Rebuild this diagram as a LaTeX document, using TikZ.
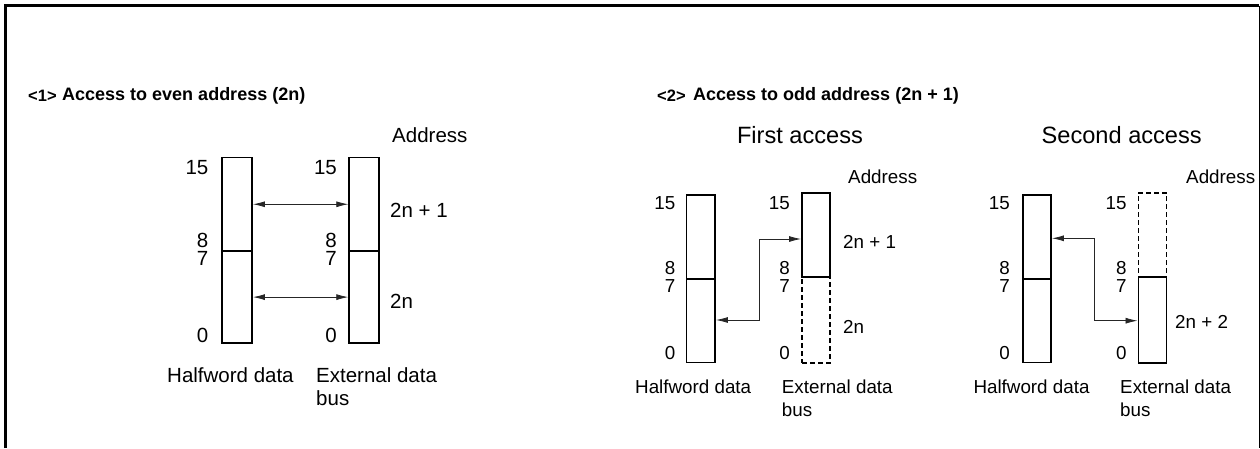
\documentclass[tikz,border=0pt]{standalone}
\usepackage{fontspec}
\setmainfont{Liberation Sans}
\usetikzlibrary{arrows.meta,calc}
\tikzset{
  half/.style={draw, line width=1.9pt, inner sep=0pt},
  dhalf/.style={draw, line width=1.9pt, inner sep=0pt, dash pattern=on 5pt off 3pt},
  arr/.style={line width=0.8pt, draw=black!85, {Latex[length=12pt,width=6pt]}-{Latex[length=12pt,width=6pt]}},
  ttl/.style={font=\fontsize{18}{21}\selectfont\bfseries, inner sep=0pt, anchor=west},
  num/.style={font=\fontsize{16.5}{20}\selectfont\bfseries, inner sep=0pt, anchor=west},
  sub/.style={font=\fontsize{23.6}{27}\selectfont, inner sep=0pt},
  la/.style={font=\fontsize{20.5}{23}\selectfont, inner sep=0pt},
  lb/.style={font=\fontsize{18.8}{22}\selectfont, inner sep=0pt},
  frame/.style={line width=2.5pt}
}
\begin{document}
\begin{tikzpicture}[x=1pt,y=-1pt]
\useasboundingbox (0,0) rectangle (1260,448);
% frame
\draw[frame] (5.3,448) -- (5.3,5.7) -- (1259.2,5.7);
\draw[line width=1.3pt] (1259.2,5.7) -- (1259.2,448);

% titles
\node[num] (t1a) at (28,96) {<1>};
\node[ttl] (t1b) at (62,96) {Access to even address (2n)};
\node[num] (t2a) at (657,96) {<2>};
\node[ttl] (t2b) at (693,96) {Access to odd address (2n + 1)};

% ---------- section 1 ----------
\node[half, minimum width=30pt, minimum height=93.5pt] (L1u) at (237,204.25) {};
\node[half, minimum width=30pt, minimum height=92pt] (L1l) at (237,297.1) {};
\node[half, minimum width=30pt, minimum height=93.5pt] (R1u) at (364.25,204.25) {};
\node[half, minimum width=30pt, minimum height=92pt] (R1l) at (364.25,297.1) {};
\draw[arr] (L1u.east) -- (R1u.west);
\draw[arr] (L1l.east) -- (R1l.west);

\node[la, anchor=east] (n1a) at (208.5,168) {15};
\node[la, anchor=east] (n1b) at (208.5,240) {8};
\node[la, anchor=east] (n1c) at (208.5,258.5) {7};
\node[la, anchor=east] (n1d) at (208.5,335) {0};
\node[la, anchor=east] (n1e) at (337,168) {15};
\node[la, anchor=east] (n1f) at (337,240) {8};
\node[la, anchor=east] (n1g) at (337,258.5) {7};
\node[la, anchor=east] (n1h) at (337,335) {0};
\node[la, anchor=west] (ad1) at (392,135) {Address};
\node[la, anchor=west] (a1u) at (390,210) {2n + 1};
\node[la, anchor=west] (a1l) at (390,301.7) {2n};
\node[la, anchor=west] (hw1) at (167,375) {Halfword data};
\node[la, anchor=west] (eb1) at (316,375) {External data};
\node[la, anchor=west] (bus1) at (316,398) {bus};

% ---------- section 2: first access ----------
\node[sub] (fa) at (800,135) {First access};
\node[half, minimum width=28.5pt, minimum height=84pt] (L2u) at (700.75,237) {};
\node[half, minimum width=28.5pt, minimum height=83.5pt] (L2l) at (700.75,320.75) {};
\node[dhalf, minimum width=28pt, minimum height=85.7pt] (R2l) at (816,319.85) {};
\node[half, minimum width=28pt, minimum height=83.7pt] (R2u) at (816,235.15) {};
\coordinate (k1) at (759.3,239);
\coordinate (k2) at (759.3,320);
\draw[arr] (k1 -| R2u.west) -- (k1) -- (k2) -- (k2 -| L2l.east);

\node[lb, anchor=east] (n2a) at (675.5,203) {15};
\node[lb, anchor=east] (n2b) at (675.5,268) {8};
\node[lb, anchor=east] (n2c) at (675.5,286.5) {7};
\node[lb, anchor=east] (n2d) at (675.5,353) {0};
\node[lb, anchor=east] (n2e) at (790,203) {15};
\node[lb, anchor=east] (n2f) at (790,268) {8};
\node[lb, anchor=east] (n2g) at (790,286.5) {7};
\node[lb, anchor=east] (n2h) at (790,353) {0};
\node[lb, anchor=west] (ad2) at (848,176.7) {Address};
\node[lb, anchor=west] (a2u) at (843,242) {2n + 1};
\node[lb, anchor=west] (a2l) at (843,326.7) {2n};
\node[lb, anchor=west] (hw2) at (635,386.7) {Halfword data};
\node[lb, anchor=west] (eb2) at (781.7,386.7) {External data};
\node[lb, anchor=west] (bus2) at (781.7,410) {bus};

% ---------- section 2: second access ----------
\node[sub] (sa) at (1121.7,135) {Second access};
\node[half, minimum width=28pt, minimum height=84pt] (L3u) at (1037,237) {};
\node[half, minimum width=28pt, minimum height=83.5pt] (L3l) at (1037,320.75) {};
\node[dhalf, minimum width=28pt, minimum height=84.3pt] (R3u) at (1152.5,234.85) {};
\node[half, minimum width=28pt, minimum height=85.7pt] (R3l) at (1152.5,319.85) {};
\coordinate (k3) at (1094,238.3);
\coordinate (k4) at (1094,320.7);
\draw[arr] (k3 -| L3u.east) -- (k3) -- (k4) -- (k4 -| R3l.west);

\node[lb, anchor=east] (n3a) at (1010,203) {15};
\node[lb, anchor=east] (n3b) at (1010,268) {8};
\node[lb, anchor=east] (n3c) at (1010,286.5) {7};
\node[lb, anchor=east] (n3d) at (1010,353) {0};
\node[lb, anchor=east] (n3e) at (1126.7,203) {15};
\node[lb, anchor=east] (n3f) at (1126.7,268) {8};
\node[lb, anchor=east] (n3g) at (1126.7,286.5) {7};
\node[lb, anchor=east] (n3h) at (1126.7,353) {0};
\node[lb, anchor=west] (ad3) at (1186,176.7) {Address};
\node[lb, anchor=west] (a3l) at (1175,321.7) {2n + 2};
\node[lb, anchor=west] (hw3) at (973.3,386.7) {Halfword data};
\node[lb, anchor=west] (eb3) at (1120,386.7) {External data};
\node[lb, anchor=west] (bus3) at (1120,410) {bus};
\end{tikzpicture}
\end{document}
